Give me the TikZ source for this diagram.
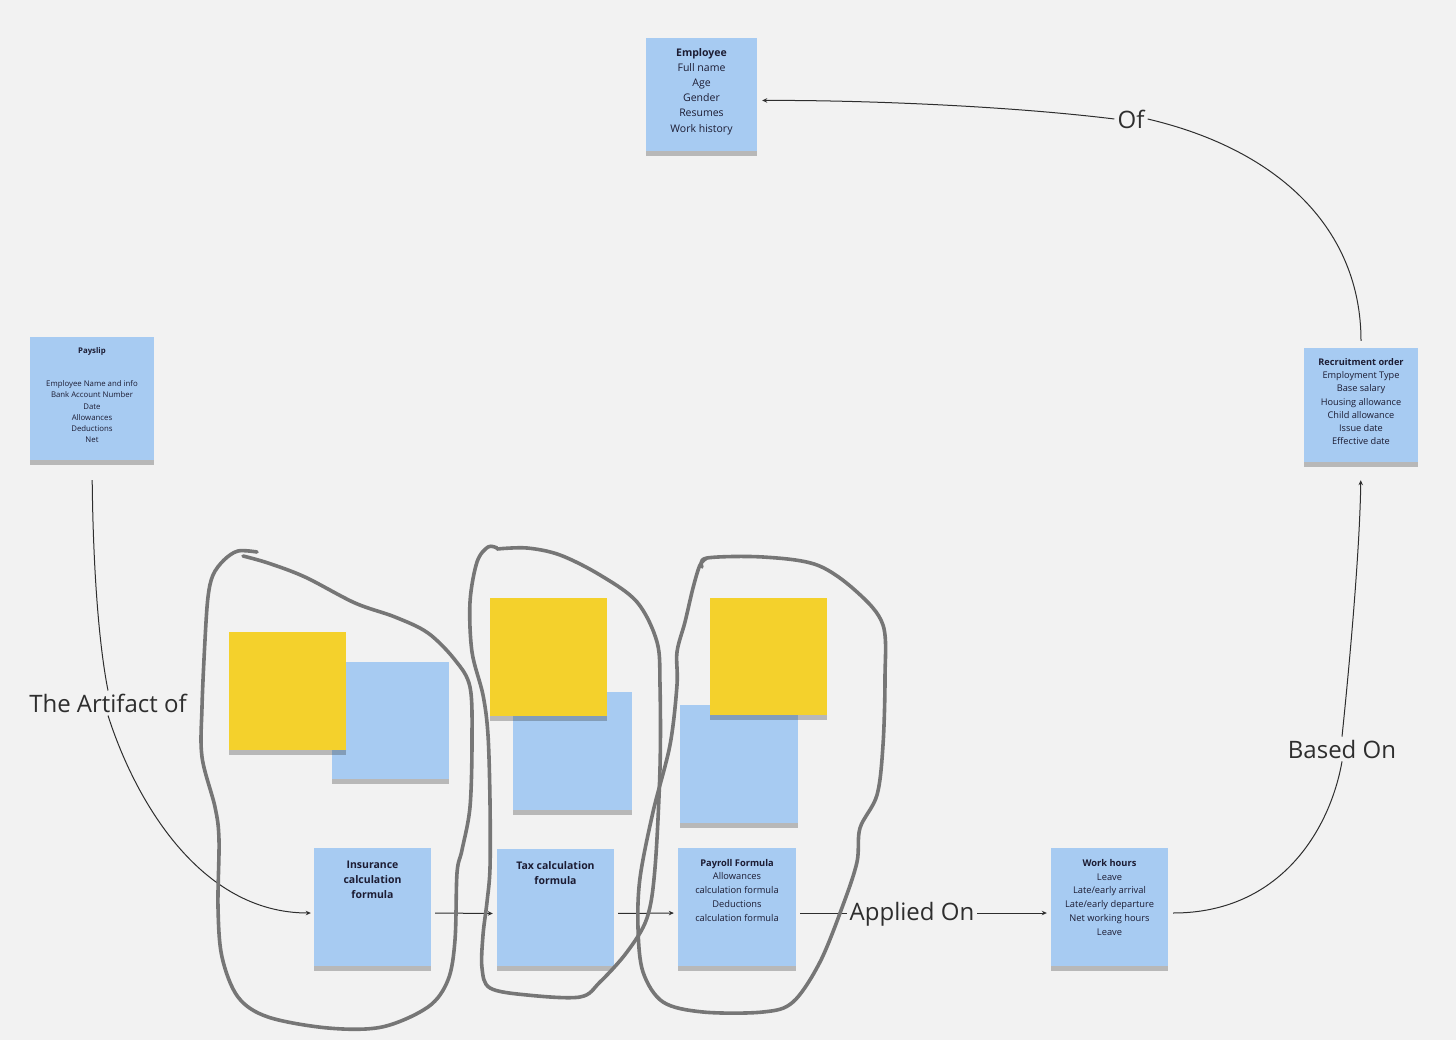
\documentclass[tikz,border=0pt]{standalone}
\usepackage{fontspec}
\setmainfont{Open Sans}
\usepackage{xcolor}
\usetikzlibrary{arrows.meta,shadows}

\definecolor{boardgray}{HTML}{F2F2F2}
\definecolor{noteblue}{HTML}{A7CBF2}
\definecolor{noteyellow}{HTML}{F4D12C}
\definecolor{inkgray}{HTML}{767676}
\definecolor{linkgray}{HTML}{2E2E2E}
\definecolor{noteink}{HTML}{1C1C33}

\tikzset{
  sticky/.style={rectangle, inner sep=0pt, minimum width=117pt, minimum height=118pt,
    drop shadow={shadow xshift=0pt, shadow yshift=-5pt, opacity=0.3, fill=black!80}},
  bluenote/.style={sticky, fill=noteblue},
  yellownote/.style={sticky, fill=noteyellow},
  notetext/.style={anchor=north, align=center, inner sep=0pt, text=noteink},
  linklabel/.style={inner sep=3pt, text=linkgray, font=\fontsize{24}{28}\selectfont},
  link/.style={draw=linkgray, line width=1pt},
  arrowlink/.style={link, -{Stealth[length=5pt, width=4.5pt]}},
  scribble/.style={draw=inkgray, line width=3.6pt, line cap=round, line join=round},
}

\begin{document}
\begin{tikzpicture}[x=1pt, y=-1pt]
  \fill[boardgray] (0,0) rectangle (1456,1040);
  \useasboundingbox (0,0) rectangle (1456,1040);

  % top note
  \node[bluenote, minimum width=111pt, minimum height=113pt] (emp) at (701.5,94.5) {};
  \node[notetext, font=\fontsize{10.5}{15.2}\selectfont] (empText) at (701.5,48)
    {\textbf{Employee}\\Full name\\Age\\Gender\\Resumes\\Work history};

  % side notes
  \node[bluenote, minimum width=124pt, minimum height=123pt] (payslip) at (92,398.5) {};
  \node[notetext, font=\fontsize{7.8}{11.2}\selectfont] (payslipText) at (92,347)
    {\textbf{Payslip}\\[22.4pt]Employee Name and info\\Bank Account Number\\Date\\Allowances\\Deductions\\Net};

  \node[bluenote, minimum width=114pt, minimum height=114pt] (recruit) at (1361,405) {};
  \node[notetext, font=\fontsize{9.2}{13.3}\selectfont] (recruitText) at (1361,358)
    {\textbf{Recruitment order}\\Employment Type\\Base salary\\Housing allowance\\Child allowance\\Issue date\\Effective date};

  % empty notes in the groups
  \node[bluenote, minimum height=117pt] (blueA) at (390.5,720.5) {};
  \node[yellownote] (yellowA) at (287.5,691) {};
  \node[bluenote, minimum width=119pt] (blueB) at (572.5,751) {};
  \node[yellownote] (yellowB) at (548.5,657) {};
  \node[bluenote, minimum width=118pt] (blueC) at (739,764) {};
  \node[yellownote, minimum height=117pt] (yellowC) at (768.5,656.5) {};

  % bottom row
  \node[bluenote] (insure) at (372.5,907) {};
  \node[notetext, font=\bfseries\fontsize{10.5}{15}\selectfont] (insureText) at (372.5,861)
    {Insurance\\calculation\\formula};

  \node[bluenote, minimum height=117pt] (tax) at (555.5,907.5) {};
  \node[notetext, font=\bfseries\fontsize{10.5}{15}\selectfont] (taxText) at (555.5,861)
    {Tax calculation\\formula};

  \node[bluenote, minimum width=118pt] (payroll) at (737,907) {};
  \node[notetext, font=\fontsize{9.3}{13.7}\selectfont] (payrollText) at (737,859)
    {\textbf{Payroll Formula}\\Allowances\\calculation formula\\Deductions\\calculation formula};

  \node[bluenote] (workhrs) at (1109.5,907) {};
  \node[notetext, font=\fontsize{9.3}{13.8}\selectfont] (workhrsText) at (1109.5,859)
    {\textbf{Work hours}\\Leave\\Late/early arrival\\Late/early departure\\Net working hours\\Leave};

  % connector labels
  \node[linklabel] (artifactLbl) at (108,703) {The Artifact of};
  \node[linklabel] (ofLbl) at (1131,119) {Of};
  \node[linklabel] (basedLbl) at (1342,749) {Based On};
  \node[linklabel] (appliedLbl) at (912,914) {Applied On};

  % connectors
  \draw[link, shorten <=20pt] (payslip.south) .. controls (93,560) and (98,640) .. (artifactLbl.north);
  \draw[arrowlink, shorten >=3pt] (artifactLbl.south) .. controls (135,800) and (200,913) .. ([yshift=-6pt]insure.west);
  \draw[arrowlink, shorten <=4pt, shorten >=4pt] ([yshift=-6pt]insure.east) -- ([yshift=-6pt]tax.west);
  \draw[arrowlink, shorten <=4pt, shorten >=4pt] ([yshift=-6pt]tax.east) -- ([yshift=-6pt]payroll.west);
  \draw[link, shorten <=4pt] ([yshift=-6pt]payroll.east) -- ([yshift=1pt]appliedLbl.west);
  \draw[arrowlink, shorten >=4pt] ([yshift=1pt]appliedLbl.east) -- ([yshift=-6pt]workhrs.west);
  \draw[link, shorten <=5pt] ([yshift=-6pt]workhrs.east) .. controls (1280,913) and (1330,830) .. (basedLbl.south);
  \draw[arrowlink, shorten >=18pt] (basedLbl.north) .. controls (1352,640) and (1360,540) .. (recruit.south);
  \draw[link, shorten <=7pt] (recruit.north) .. controls (1361,230) and (1280,150) .. (ofLbl.east);
  \draw[arrowlink, shorten >=5pt] (ofLbl.west) .. controls (1000,105) and (850,100) .. ([yshift=-6pt]emp.east);

  % hand drawn groups
  \draw[scribble] plot[smooth, tension=0.55] coordinates {(257,552) (238,551) (224,560) (213,575) (208,597) (205,640)
    (202,707) (202,757) (215,807) (219,840) (218,907) (222,957) (238,997) (268,1017) (328,1028) (382,1027)
    (428,1007) (448,980) (455,940) (457,873) (462,850) (470,807) (472,740) (470,687) (455,660) (428,633)
    (395,617) (355,603) (305,577) (268,563) (243,556)};
  \draw[scribble] plot[smooth, tension=0.55] coordinates {(497,548) (488,547) (477,562) (470,602) (472,652)
    (483,695) (488,735) (490,802) (490,868) (487,902) (483,935) (482,968) (490,988) (527,995) (580,997)
    (600,982) (627,952) (647,918) (655,868) (660,768) (660,685) (657,642) (637,602) (600,575) (560,555)
    (527,548) (497,549)};
  \draw[scribble] plot[smooth, tension=0.55] coordinates {(702,567) (707,558) (763,557) (817,565) (857,592)
    (883,625) (885,678) (883,745) (877,795) (860,828) (857,862) (843,905) (820,962) (793,1002) (763,1012)
    (703,1012) (663,1002) (643,972) (638,928) (640,878) (653,812) (670,745) (677,685) (677,652) (685,622)
    (693,588) (700,565) (707,558)};
\end{tikzpicture}
\end{document}
